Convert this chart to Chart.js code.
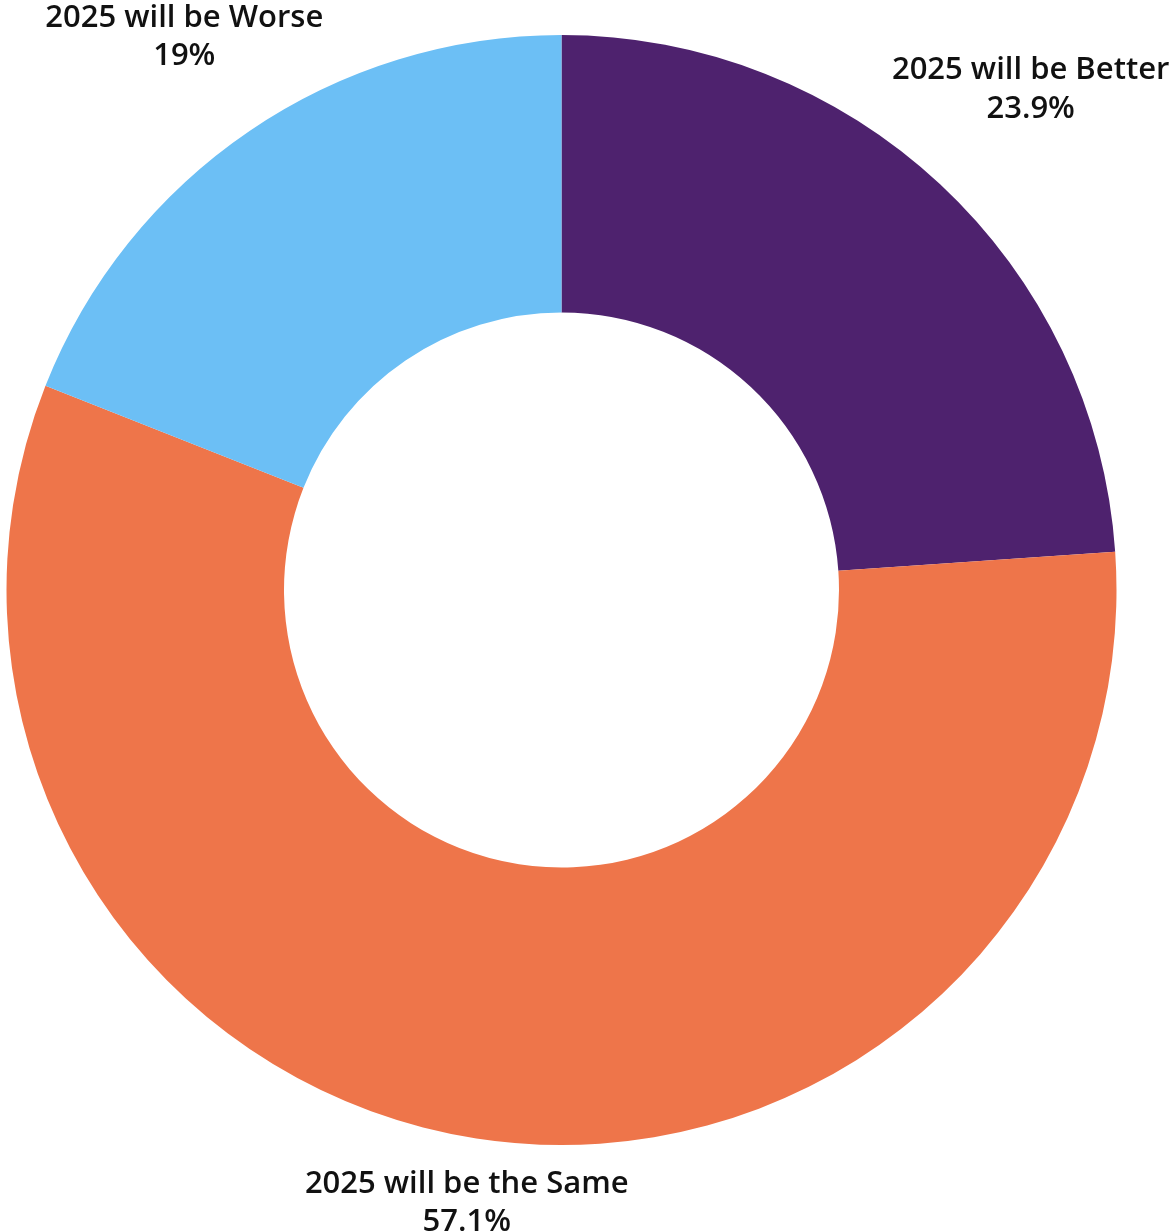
<!DOCTYPE html>
<html>
<head>
<meta charset="utf-8">
<script src="https://cdn.jsdelivr.net/npm/chart.js@4"></script>
<style>
  html, body { margin: 0; padding: 0; background: #fff; }
  #wrap { width: 1172px; height: 1232px; position: relative; }
</style>
</head>
<body>
<div id="wrap"><canvas id="myChart"></canvas></div>
<script>
// data
const categories = ['2025 will be Better', '2025 will be the Same', '2025 will be Worse'];
const shares = [23.9, 57.1, 19];
const sliceColors = ['#4E226E', '#EE754A', '#6CBFF5'];

const labelFont = '600 31px "Open Sans", Lato, sans-serif';

// draws the two-line label outside each slice
const outsideLabels = {
    id: 'outsideLabels',
    afterDraw(chart) {
        const ctx = chart.ctx;
        const meta = chart.getDatasetMeta(0);
        ctx.save();
        ctx.font = labelFont;
        ctx.fillStyle = '#111111';
        ctx.textAlign = 'center';
        ctx.textBaseline = 'alphabetic';
        meta.data.forEach(function (arc, i) {
            const p = arc.getProps(['x', 'y', 'startAngle', 'endAngle', 'outerRadius'], true);
            const mid = (p.startAngle + p.endAngle) / 2;
            const line1 = chart.data.labels[i];
            const line2 = shares[i] + '%';
            const halfW = ctx.measureText(line1).width / 2;
            const dist = p.outerRadius + 38 + halfW * Math.abs(Math.cos(mid));
            const cx = p.x + dist * Math.cos(mid);
            const cy = p.y + dist * Math.sin(mid);
            // baselines: cap centres sit about 19px above / below block centre
            ctx.fillText(line1, cx, cy - 8);
            ctx.fillText(line2, cx, cy + 30.5);
        });
        ctx.restore();
    }
};

const ctx = document.getElementById('myChart').getContext('2d');
const chart = new Chart(ctx, {
    type: 'doughnut',
    data: {
        labels: categories,
        datasets: [{
            data: shares,
            backgroundColor: sliceColors,
            borderWidth: 0
        }]
    },
    options: {
        responsive: true,
        maintainAspectRatio: false,
        animation: false,
        cutout: '50%',
        layout: { padding: { left: 6, right: 55, top: 35, bottom: 87 } },
        plugins: {
            legend: { display: false },
            tooltip: { enabled: false }
        }
    },
    plugins: [outsideLabels]
});
</script>
</body>
</html>
